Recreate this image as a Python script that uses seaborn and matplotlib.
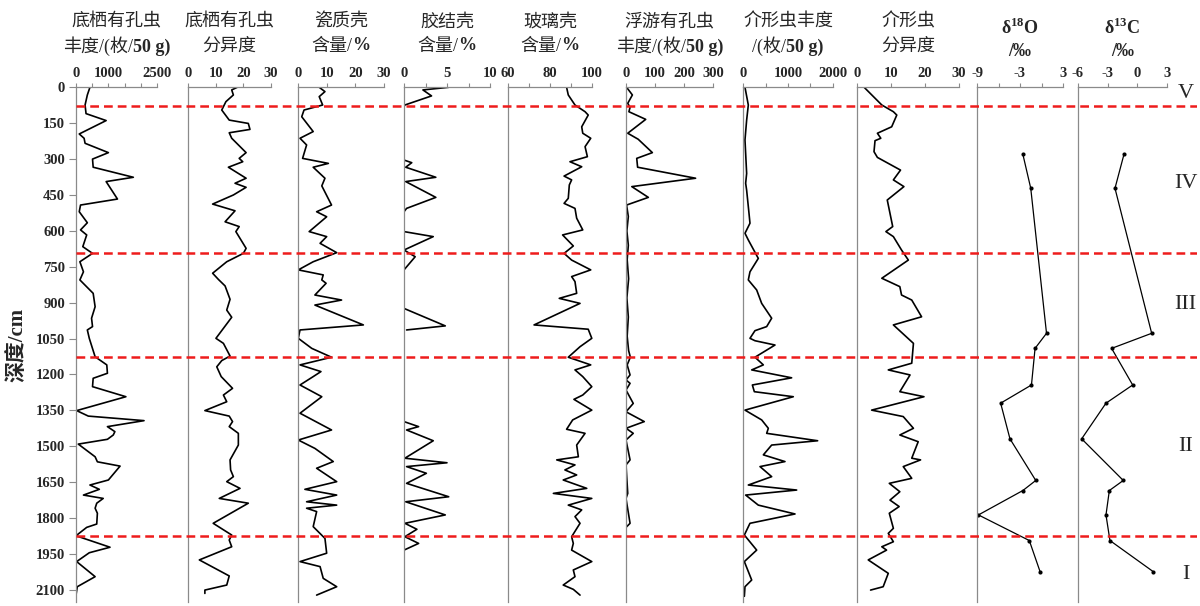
import matplotlib
matplotlib.use("Agg")
import matplotlib.pyplot as plt
import matplotlib.transforms as mtransforms
from matplotlib.offsetbox import TextArea, HPacker, AnnotationBbox
import seaborn as sns
import pandas as pd

# ---- data (depth in cm) ----
bf_abund_depth = [0, 32, 74, 110, 139, 195, 213, 234, 273, 300, 334, 376, 394, 467, 492,
                  520, 566, 596, 617, 666, 694, 729, 771, 805, 861, 917, 965, 1000, 1014, 1049,
                  1126, 1160, 1195, 1216, 1251, 1293, 1351, 1374, 1393, 1418, 1439, 1453, 1471, 1491, 1544,
                  1565, 1583, 1641, 1662, 1680, 1704, 1718, 1738, 1759, 1780, 1825, 1839, 1874, 1922, 1945,
                  1982, 2045, 2087, 2122]
bf_abund = [430, 350, 280, 310, 930, 100, 250, 280, 1000, 510, 530, 1770, 930, 1280, 140,
            100, 350, 140, 330, 210, 510, 120, 230, 120, 530, 590, 480, 510, 350, 410,
            590, 950, 970, 530, 510, 1540, 20, 380, 2100, 970, 1200, 1150, 970, 70, 590,
            660, 1360, 1000, 430, 720, 230, 840, 640, 590, 660, 640, 330, 0, 1050, 410,
            20, 590, 40, 0]

bf_div_depth = [0, 11, 32, 60, 95, 137, 151, 176, 190, 213, 273, 297, 311, 334, 380,
                401, 418, 450, 488, 516, 562, 582, 603, 673, 694, 729, 777, 803, 830, 886,
                931, 961, 1049, 1070, 1123, 1142, 1168, 1209, 1258, 1286, 1314, 1351, 1374, 1397, 1418,
                1446, 1495, 1557, 1599, 1627, 1648, 1676, 1718, 1738, 1822, 1871, 1892, 1920, 1975, 2042,
                2080, 2101, 2115]
bf_div = [17.8, 15.8, 16.4, 13.7, 12.2, 14.9, 21.8, 22.4, 14.9, 15.8, 21.0, 18.5, 19.8, 14.6, 21.0,
          17.0, 21.0, 16.4, 8.9, 17.0, 13.4, 18.5, 17.3, 21.0, 20.0, 14.0, 8.9, 11.0, 13.4, 15.2,
          14.0, 15.8, 10.1, 12.8, 15.2, 12.2, 10.4, 12.0, 16.1, 12.8, 14.0, 6.1, 14.9, 16.1, 14.9,
          18.2, 18.2, 15.2, 15.4, 16.4, 14.0, 18.8, 11.3, 21.8, 9.1, 15.8, 14.9, 15.8, 4.1, 14.9,
          14.0, 6.1, 6.1]

porcel_depth = [0, 18, 39, 74, 95, 123, 185, 213, 241, 297, 318, 334, 380, 412, 492,
                520, 541, 603, 624, 652, 691, 729, 763, 784, 805, 819, 868, 889, 910, 993,
                1014, 1049, 1091, 1128, 1160, 1188, 1209, 1244, 1293, 1362, 1432, 1474, 1509, 1564, 1592,
                1648, 1680, 1704, 1732, 1746, 1759, 1773, 1836, 1885, 1947, 1982, 2003, 2052, 2087, 2122]
porcel = [7.4, 9.4, 7.4, 8.6, 2.1, 1.3, 5.3, 0.7, 3.0, 1.6, 10.6, 5.3, 9.4, 8.3, 11.7,
          6.5, 10.0, 3.9, 10.0, 7.7, 13.5, 5.3, 0.1, 8.8, 8.3, 9.8, 5.9, 15.2, 5.9, 22.8,
          0.7, 0.1, 4.8, 11.7, 0.7, 8.0, 5.3, 0.7, 8.3, 0.7, 11.7, 0.1, 5.9, 12.3, 6.5,
          13.5, 2.4, 13.5, 3.0, 13.5, 3.0, 6.5, 5.3, 9.4, 10.0, 0.7, 7.7, 8.8, 13.5, 6.5]

# agglutinated shells: only the runs that leave the zero line are drawn
agglut_depth = [0, 11, 36, 74, 80, 304, 315, 334, 376, 394, 460, 506, 520, 603, 624,
                680, 708, 763, 924, 997, 1014, 1397, 1418, 1432, 1477, 1550, 1569, 1585, 1613, 1655,
                1711, 1732, 1787, 1822, 1847, 1878, 1906, 1934]
agglut = [5.2, 2.2, 3.2, 0.1, 0, 0, 0.9, 0.2, 3.7, 0.2, 3.7, 0.3, 0, 0, 3.4,
          0, 1.3, 0, 0, 4.8, 0.3, 0, 1.7, 0.3, 3.4, 0.1, 5.0, 0.3, 2.6, 0.3,
          5.2, 0.2, 4.8, 0.1, 1.5, 0.1, 1.7, 0]
agglut_run = [0, 0, 0, 0, 0, 1, 1, 1, 1, 1, 1, 1, 1, 2, 2,
              2, 2, 2, 3, 3, 3, 4, 4, 4, 4, 4, 4, 4, 4, 4,
              4, 4, 4, 4, 4, 4, 4, 4]

hyaline_depth = [0, 32, 74, 102, 116, 165, 192, 213, 248, 290, 311, 332, 371, 387, 408,
                 464, 485, 506, 547, 596, 617, 663, 694, 722, 763, 791, 812, 861, 882, 903,
                 993, 1011, 1049, 1084, 1128, 1160, 1181, 1209, 1251, 1286, 1304, 1349, 1390, 1429, 1446,
                 1495, 1544, 1557, 1578, 1599, 1620, 1641, 1676, 1697, 1718, 1746, 1766, 1794, 1822, 1878,
                 1906, 1934, 1982, 2017, 2045, 2080, 2098, 2122]
hyaline = [87.9, 88.7, 91.9, 96.7, 98.2, 95.1, 95.6, 99.4, 96.7, 97.8, 89.5, 95.1, 86.7, 90.3, 89.2,
           88.7, 86.7, 91.9, 92.7, 95.6, 86.0, 91.1, 86.7, 90.3, 99.4, 90.3, 91.9, 92.7, 84.4, 94.3,
           72.4, 98.2, 99.9, 94.3, 88.7, 99.4, 91.9, 95.6, 99.9, 95.6, 91.4, 99.9, 90.8, 87.9, 96.7,
           92.7, 93.5, 83.2, 91.9, 87.1, 92.7, 86.3, 97.5, 81.6, 99.9, 88.7, 95.1, 91.9, 94.3, 90.3,
           91.1, 90.3, 99.9, 91.1, 91.9, 86.3, 91.1, 94.3]

pf_abund_depth = [0, 32, 67, 84, 102, 134, 192, 217, 273, 297, 334, 380, 415, 460, 492,
                  540, 600, 660, 720, 800, 880, 960, 1040, 1100, 1128, 1160, 1202, 1223, 1237, 1265,
                  1321, 1356, 1397, 1425, 1446, 1474, 1557, 1578, 1697, 1718, 1822, 1839, 2130]
pf_abund = [2, 22, 6, 14, 10, 68, 6, 42, 91, 37, 40, 240, 20, 77, 2,
            8, 3, 8, 4, 9, 3, 8, 4, 9, 15, 4, 14, 0, 14, 0,
            25, 0, 63, 0, 25, 0, 14, 0, 6, 0, 14, 0, 0]

ost_abund_depth = [0, 74, 137, 220, 360, 401, 430, 526, 568, 610, 638, 715, 771, 805, 847,
                   903, 965, 1000, 1017, 1049, 1059, 1077, 1128, 1160, 1181, 1214, 1244, 1272, 1293, 1349,
                   1390, 1425, 1446, 1477, 1495, 1536, 1564, 1585, 1627, 1662, 1683, 1704, 1746, 1783, 1822,
                   1871, 1934, 1982, 2059, 2087, 2127]
ost_abund = [44, 118, 81, 44, 81, 59, 81, 133, 155, 44, 118, 340, 155, 118, 304,
             415, 637, 526, 266, 155, 266, 711, 266, 452, 193, 1081, 208, 252, 1118, 44,
             415, 563, 526, 1659, 637, 452, 933, 378, 637, 118, 1193, 59, 340, 1156, 155,
             30, 304, 30, 193, 44, 30]

ost_div_depth = [0, 74, 102, 116, 165, 192, 213, 223, 269, 293, 346, 387, 415, 471, 582,
                 603, 624, 680, 722, 798, 833, 868, 889, 959, 993, 1070, 1153, 1181, 1202, 1272,
                 1293, 1349, 1376, 1425, 1453, 1481, 1550, 1557, 1585, 1634, 1655, 1690, 1725, 1752, 1780,
                 1843, 1864, 1899, 1920, 1934, 1975, 2031, 2087, 2101]
ost_div = [2.1, 7.3, 10.7, 11.7, 10.2, 6.0, 7.0, 5.3, 5.0, 6.0, 12.8, 10.7, 13.8, 8.9, 10.5,
           8.5, 10.7, 13.1, 15.1, 7.3, 12.6, 13.1, 16.1, 19.0, 10.7, 16.6, 16.1, 9.2, 15.6, 12.6,
           19.7, 4.3, 13.6, 16.6, 12.6, 18.0, 16.1, 18.7, 13.6, 16.1, 9.5, 12.6, 9.7, 12.4, 9.5,
           10.7, 9.2, 10.7, 7.3, 8.7, 3.3, 9.2, 7.7, 4.0]

iso_depth = [280, 422, 1028, 1091, 1244, 1320, 1469, 1643, 1685, 1787, 1894, 2024]
d18o = [-2.6, -1.5, 0.7, -0.9, -1.4, -5.7, -4.4, -0.8, -2.6, -8.8, -1.7, -0.2]
d13c = [-1.35, -2.26, 1.45, -2.6, -0.47, -3.17, -5.63, -1.42, -2.83, -3.17, -2.77, 1.61]

zone_bounds = [77, 694, 1128, 1874]
zone_labels = ["V", "IV", "III", "II", "I"]
zone_label_depth = [25, 400, 907, 1503, 2038]
depth_ticks = list(range(0, 2101, 150))

sns.set_style("ticks")
plt.rcParams["font.family"] = ["Liberation Serif", "Noto Sans CJK SC", "DejaVu Sans"]
plt.rcParams["mathtext.fontset"] = "custom"
plt.rcParams["mathtext.rm"] = "Liberation Serif"
plt.rcParams["mathtext.bf"] = "Liberation Serif:bold"

W, H = 1200, 606
TOP, BOT = 87.3, 602.0
DMAX = (BOT - TOP) / 0.2393
GREY = "#8a8a8a"
TICK_FS = 10.5

fig = plt.figure(figsize=(W / 100, H / 100), dpi=100)

# title lines as (text, bold) pieces
ABUND = [("丰度/(枚/", False), ("50 g)", True)]
PCT = [("含量/", False), ("%", True)]
panels = [
    ([("底栖有孔虫", False)], ABUND, bf_abund_depth, bf_abund, None, 76, 157, 188,
     0, 2500, [0, 500, 1000, 1500, 2000, 2500], ["0", "", "1000", "", "", "2500"], "line"),
    ([("底栖有孔虫", False)], [("分异度", False)], bf_div_depth, bf_div, None, 188, 271, 298,
     0, 30, [0, 10, 20, 30], ["0", "10", "20", "30"], "line"),
    ([("瓷质壳", False)], PCT, porcel_depth, porcel, None, 298, 384, 404,
     0, 30, [0, 10, 20, 30], ["0", "10", "20", "30"], "line"),
    ([("胶结壳", False)], PCT, agglut_depth, agglut, agglut_run, 404, 490, 508,
     0, 10, [0, 2.5, 5, 7.5, 10], ["0", "", "5", "", "10"], "line"),
    ([("玻璃壳", False)], PCT, hyaline_depth, hyaline, None, 508, 592, 626,
     60, 100, [60, 70, 80, 90, 100], ["60", "", "80", "", "100"], "line"),
    ([("浮游有孔虫", False)], ABUND, pf_abund_depth, pf_abund, None, 626, 713, 743,
     0, 300, [0, 100, 200, 300], ["0", "100", "200", "300"], "line"),
    ([("介形虫丰度", False)], [("/(枚/", False), ("50 g)", True)], ost_abund_depth, ost_abund, None,
     743, 833, 857, 0, 2000, [0, 500, 1000, 1500, 2000], ["0", "", "1000", "", "2000"], "line"),
    ([("介形虫", False)], [("分异度", False)], ost_div_depth, ost_div, None, 857, 959, 977,
     0, 30, [0, 10, 20, 30], ["0", "10", "20", "30"], "line"),
    ([(r"δ$^{\mathbf{18}}$O", True)], [("/‰", True)], iso_depth, d18o, None, 977, 1063, 1078,
     -9, 3, [-9, -6, -3, 0, 3], ["-9", "", "-3", "", "3"], "dots"),
    ([(r"δ$^{\mathbf{13}}$C", True)], [("/‰", True)], iso_depth, d13c, None, 1078, 1167, 1197,
     -6, 3, [-6, -3, 0, 3], ["-6", "-3", "0", "3"], "dots"),
]


def title_line(ax, pieces, x, y_px):
    boxes = [TextArea(t, textprops=dict(fontsize=13, fontweight="bold" if b else "normal"))
             for t, b in pieces]
    pack = HPacker(children=boxes, pad=0, sep=0, align="baseline")
    trans = mtransforms.blended_transform_factory(ax.transData, fig.transFigure)
    ab = AnnotationBbox(pack, (x, 1 - y_px / H), xycoords=trans, frameon=False,
                        box_alignment=(0.5, 0.5), pad=0, annotation_clip=False)
    ax.add_artist(ab)


for i, (t1, t2, dep, val, run, left, end, right, lo, hi, ticks, labels, kind) in enumerate(panels):
    ax = fig.add_axes([left / W, 1 - BOT / H, (right - left) / W, (BOT - TOP) / H])
    ax.patch.set_alpha(0)
    span = (hi - lo) * (right - left) / (end - left)
    df = pd.DataFrame({"depth": dep, "value": val})
    if run is not None:
        df["run"] = run
        sns.lineplot(data=df, x="value", y="depth", units="run", orient="y", sort=False,
                     estimator=None, color="black", lw=1.2, ax=ax)
    elif kind == "line":
        sns.lineplot(data=df, x="value", y="depth", orient="y", sort=False, estimator=None,
                     color="black", lw=1.2, ax=ax)
    else:
        sns.lineplot(data=df, x="value", y="depth", orient="y", sort=False, estimator=None,
                     color="black", lw=0.9, marker="o", markersize=3, markeredgewidth=0, ax=ax)
    ax.set_xlim(lo, lo + span)
    ax.set_ylim(DMAX, 0)
    ax.set_xlabel("")
    ax.set_ylabel("")
    for s in ["right", "bottom"]:
        ax.spines[s].set_visible(False)
    for s in ["left", "top"]:
        ax.spines[s].set_color(GREY)
        ax.spines[s].set_linewidth(0.9)
    ax.spines["top"].set_bounds(lo, hi)
    ax.set_xticks(ticks)
    ax.set_xticklabels(labels, fontweight="bold", fontsize=TICK_FS)
    ax.tick_params(axis="x", top=True, labeltop=True, bottom=False, labelbottom=False,
                   direction="out", length=3, width=0.8, color=GREY, pad=2)
    if i == 0:
        ax.set_yticks(depth_ticks)
        ax.set_yticklabels([str(t) for t in depth_ticks], fontweight="bold", fontsize=TICK_FS)
        ax.tick_params(axis="y", left=True, direction="out", length=5, width=0.8, color=GREY, pad=3)
        ax.set_ylabel("深度/cm", fontsize=15, fontweight="bold", labelpad=6)
    else:
        ax.set_yticks([])

    iso = kind == "dots"
    title_line(ax, t1, (lo + hi) / 2, 28 if iso else 22)
    title_line(ax, t2, (lo + hi) / 2, 51 if iso else 46)

# zone boundaries and zone numbers
ov = fig.add_axes([76 / W, 1 - BOT / H, (1197 - 76) / W, (BOT - TOP) / H])
ov.patch.set_alpha(0)
ov.set_ylim(DMAX, 0)
ov.set_xlim(0, 1)
ov.axis("off")
for b in zone_bounds:
    ov.axhline(b, color="#ee1c1c", lw=1.8, ls=(0, (3.5, 2)))
for lab, d in zip(zone_labels, zone_label_depth):
    ov.text(0.99, d, lab, ha="center", va="center", fontsize=16)

fig.savefig("out.png", dpi=100)
